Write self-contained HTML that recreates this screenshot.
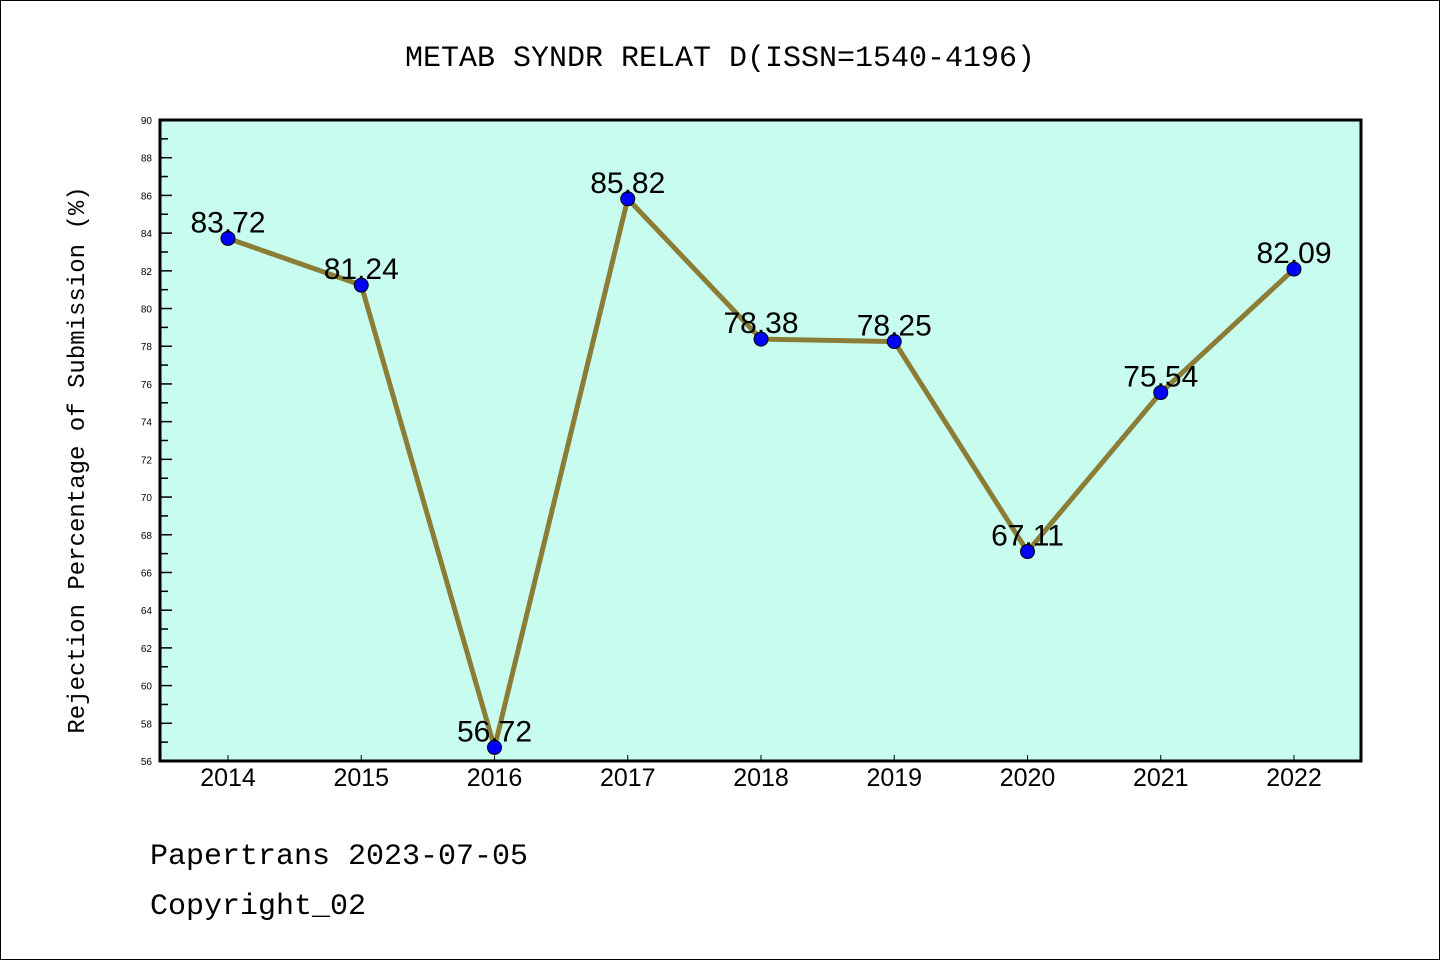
<!DOCTYPE html>
<html><head><meta charset="utf-8"><style>
body{margin:0;background:#fff}
svg{display:block;font-family:"Liberation Sans","WenQuanYi Zen Hei",sans-serif}
.mono{font-family:"Liberation Mono","WenQuanYi Zen Hei",monospace}
</style></head><body>
<svg width="1440" height="960">
<rect x="0.5" y="0.5" width="1439" height="959" fill="#fff" stroke="#000"/>
<text x="720" y="66" text-anchor="middle" font-size="30" class="mono">METAB SYNDR RELAT D(ISSN=1540-4196)</text>
<rect x="160" y="120" width="1201" height="641" fill="#c8fcee"/>
<g id="yticks"></g><g id="xticks"></g><g id="series"></g>
<rect x="160" y="120" width="1201" height="641" fill="none" stroke="#000" stroke-width="3"/>
<text transform="translate(84,460) rotate(-90)" text-anchor="middle" font-size="24" class="mono">Rejection Percentage of Submission (%)</text>
<text x="150" y="864" font-size="30" class="mono">Papertrans 2023-07-05</text>
<text x="150" y="914" font-size="30" class="mono">Copyright_02</text>
</svg>
<script>
const years=[2014,2015,2016,2017,2018,2019,2020,2021,2022];
const rates=[83.72,81.24,56.72,85.82,78.38,78.25,67.11,75.54,82.09];
const labels=["83.72","81.24","56.72","85.82","78.38","78.25","67.11","75.54","82.09"];
const yMin=56,yMax=90;
const NS="http://www.w3.org/2000/svg";
const X=i=>228+i*133.25;
const Y=v=>761-(v-yMin)/(yMax-yMin)*641;
function mk(t,a,p){const e=document.createElementNS(NS,t);for(const k in a)e.setAttribute(k,a[k]);p.appendChild(e);return e;}
const yt=document.getElementById('yticks');
for(let v=yMin;v<=yMax;v++){
  const l=mk('line',{x1:160,x2:v%2?168:172,y1:Y(v),y2:Y(v),stroke:'#000','stroke-width':1.5},yt);
  
  
  if(v%2===0){const t=mk('text',{x:152,y:Y(v)+4,'text-anchor':'end','font-size':10},yt);t.textContent=v;
  
  }
}
const xt=document.getElementById('xticks');
years.forEach((yr,i)=>{
  const l=mk('line',{x1:X(i),x2:X(i),y1:761,y2:755,stroke:'#000'},xt);
  
  
  const t=mk('text',{x:X(i),y:786,'text-anchor':'middle','font-size':25},xt);t.textContent=yr;
  
  
});
const s=document.getElementById('series');
const pl=mk('polyline',{points:rates.map((v,i)=>X(i)+','+Y(v)).join(' '),fill:'none',stroke:'#8b7d35','stroke-width':5},s);


rates.forEach((v,i)=>{
  const c=mk('circle',{cx:X(i),cy:Y(v),r:7,fill:'#0000ff',stroke:'#000','stroke-width':1},s);
  
  
  const t=mk('text',{x:X(i),y:Y(v)-6,'text-anchor':'middle','font-size':30},s);t.textContent=labels[i];
  
  
});
</script>
</body></html>
